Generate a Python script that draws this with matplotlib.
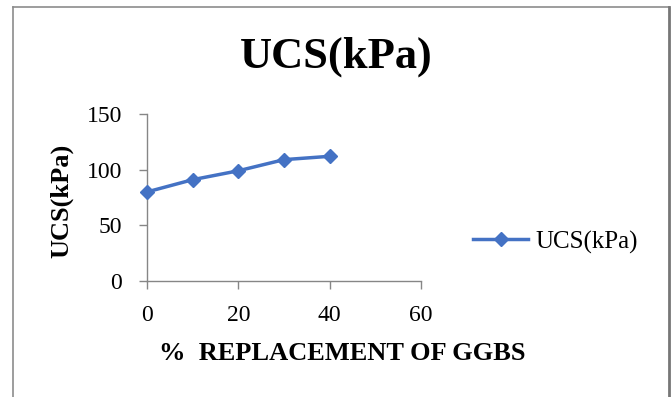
import matplotlib
matplotlib.use("Agg")
import matplotlib.pyplot as plt
from matplotlib.lines import Line2D

# data
replacement = [0, 10, 20, 30, 40]
ucs = [80, 91, 99, 109, 112]
x_ticks = [0, 20, 40, 60]
y_ticks = [0, 50, 100, 150]

plt.rcParams["font.family"] = ["Liberation Serif", "DejaVu Serif"]

fig = plt.figure(figsize=(6.72, 3.97), dpi=100)
ax = fig.add_axes([147 / 672, 1 - 281 / 397, (421 - 147) / 672, (281 - 114) / 397])

blue = "#4472C4"
ax.plot(replacement, ucs, color=blue, lw=2.5, marker="D", markersize=7,
        label="UCS(kPa)", clip_on=False, zorder=3)

ax.set_xlim(0, 60)
ax.set_ylim(0, 150)
ax.set_xticks(x_ticks)
ax.set_yticks(y_ticks)
ax.tick_params(labelsize=17, length=6, width=1, color="#868686")
ax.tick_params(axis="x", pad=11)
ax.tick_params(axis="y", pad=12)

for side in ["top", "right"]:
    ax.spines[side].set_visible(False)
for side in ["left", "bottom"]:
    ax.spines[side].set_color("#868686")
    ax.spines[side].set_linewidth(1)

# title and axis labels
fig.text(0.5, 1 - 57 / 397, "UCS(kPa)", ha="center", va="center",
         fontsize=32, fontweight="bold")
fig.text(342 / 672, 1 - 354 / 397, "%  REPLACEMENT OF GGBS", ha="center",
         va="center", fontsize=19, fontweight="bold")
fig.text(62 / 672, 1 - 201 / 397, "UCS(kPa)", ha="center", va="center",
         rotation=90, fontsize=19, fontweight="bold")

fig.legend(loc="center left", bbox_to_anchor=(473 / 672, 1 - 242 / 397),
           frameon=False, fontsize=18, handlelength=2.2, handletextpad=0.3,
           borderpad=0, borderaxespad=0)

# outer chart frame (no bottom edge visible)
frame = dict(transform=fig.transFigure, color="#8c8c8c", lw=1.2)
fig.add_artist(Line2D([12.5 / 672, 12.5 / 672], [0, 1 - 6.5 / 397], **frame))
fig.add_artist(Line2D([12.5 / 672, 669 / 672], [1 - 6.5 / 397, 1 - 6.5 / 397], **frame))
fig.add_artist(Line2D([669 / 672, 669 / 672], [0, 1 - 6.5 / 397],
                      transform=fig.transFigure, color="#777777", lw=2))

fig.savefig("out.png", dpi=100)
